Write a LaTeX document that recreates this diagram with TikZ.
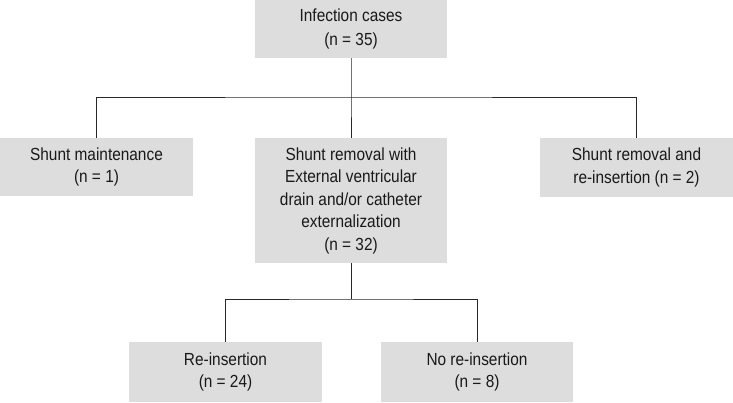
\documentclass[tikz,border=0pt]{standalone}
\usepackage{fontspec}
\setmainfont{Liberation Sans}[FakeStretch=0.88]
\definecolor{boxgray}{RGB}{221,221,221}
\definecolor{linegray}{RGB}{40,40,40}
\begin{document}
\begin{tikzpicture}[x=1pt,y=1pt,
  box/.style={fill=boxgray, draw=none, align=center, inner sep=0pt,
    font=\fontsize{17.5}{22.5}\selectfont, text=black!90},
  link/.style={draw=linegray, line width=0.9pt}]
\useasboundingbox (0,0) rectangle (733,402);
\node[box, minimum width=192, minimum height=58, font=\fontsize{17.5}{24}\selectfont] (top) at (351,373) {Infection cases\\(n = 35)};
\node[box, minimum width=193, minimum height=58] (left) at (96.5,235) {Shunt maintenance\\(n = 1)};
\node[box, minimum width=192, minimum height=125] (mid) at (351,201.5) {Shunt removal with\\External ventricular\\drain and/or catheter\\externalization\\(n = 32)};
\node[box, minimum width=193, minimum height=59] (right) at (636.5,234.5) {Shunt removal and\\re-insertion (n = 2)};
\node[box, minimum width=193, minimum height=60] (bl) at (225.5,30) {Re-insertion\\(n = 24)};
\node[box, minimum width=192, minimum height=60] (br) at (477,30) {No re-insertion\\(n = 8)};
\coordinate (j1) at (351,305);
\coordinate (j2) at (351,103);
\draw[link] (top.south) -- (j1) -- (mid.north);
\draw[link] (left.north) |- (j1) -| (right.north);
\draw[link] (mid.south) -- (j2);
\draw[link] (bl.north) |- (j2) -| (br.north);
\end{tikzpicture}
\end{document}
